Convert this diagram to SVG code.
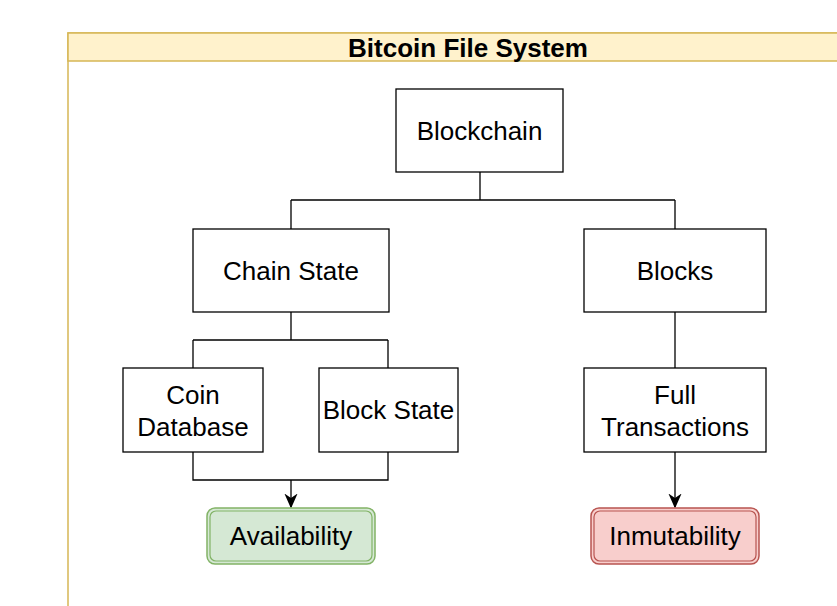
<svg xmlns="http://www.w3.org/2000/svg" width="837" height="606" viewBox="0 0 837 606">
<defs>
<marker id="arr" viewBox="0 0 10 10" refX="9" refY="5" markerWidth="15" markerHeight="15" markerUnits="userSpaceOnUse" orient="auto">
<path d="M0,0.6 L10,5 L0,9.4 L3,5 Z" fill="#000"/>
</marker>
</defs>
<style>
text{font-family:"Liberation Sans",Arial,sans-serif;font-size:26px;fill:#000;text-anchor:middle;dominant-baseline:central}
.box{fill:#fff;stroke:#000;stroke-width:1.3}
.ln{fill:none;stroke:#000;stroke-width:1.3}
</style>
<rect width="837" height="606" fill="#fff"/>
<g id="container">
<rect x="68" y="33" width="780" height="590" fill="#fff" stroke="#d6b656" stroke-width="1.5"/>
<rect x="68" y="33" width="780" height="28" fill="#fff2cc" stroke="#d6b656" stroke-width="1.5"/>
<text x="468" y="48" style="font-weight:bold">Bitcoin File System</text>
</g>
<g id="connectors">
<path class="ln" d="M480,172 V200 M291,200 H675 M291,200 V229 M675,200 V229"/>
<path class="ln" d="M291,312 V340 M193,340 H388 M193,340 V368 M388,340 V368"/>
<path class="ln" d="M675,312 V368"/>
<path class="ln" d="M193,452 V480 H388 V452"/>
<path class="ln" d="M291,480 V507" marker-end="url(#arr)"/>
<path class="ln" d="M675,452 V507" marker-end="url(#arr)"/>
</g>
<g id="blockchain"><rect class="box" x="396" y="89" width="167" height="83"/><text x="479.5" y="131">Blockchain</text></g>
<g id="chain-state"><rect class="box" x="193" y="229" width="196" height="83"/><text x="291" y="271">Chain State</text></g>
<g id="blocks"><rect class="box" x="584" y="229" width="182" height="83"/><text x="675" y="271">Blocks</text></g>
<g id="coin-database"><rect class="box" x="123" y="368" width="140" height="84"/><text x="193" y="395">Coin</text><text x="193" y="427">Database</text></g>
<g id="block-state"><rect class="box" x="319" y="368" width="139" height="84"/><text x="388.5" y="410">Block State</text></g>
<g id="full-transactions"><rect class="box" x="584" y="368" width="182" height="84"/><text x="675" y="395">Full</text><text x="675" y="427">Transactions</text></g>
<g id="availability"><rect x="207" y="508" width="168" height="56" rx="8" fill="#d5e8d4" stroke="#82b366" stroke-width="1.5"/><rect x="210" y="511" width="162" height="50" rx="6" fill="none" stroke="#82b366" stroke-width="1.2"/><text x="291" y="536">Availability</text></g>
<g id="inmutability"><rect x="591" y="508" width="168" height="56" rx="8" fill="#f8cecc" stroke="#b85450" stroke-width="1.5"/><rect x="594" y="511" width="162" height="50" rx="6" fill="none" stroke="#b85450" stroke-width="1.2"/><text x="675" y="536">Inmutability</text></g>
</svg>
